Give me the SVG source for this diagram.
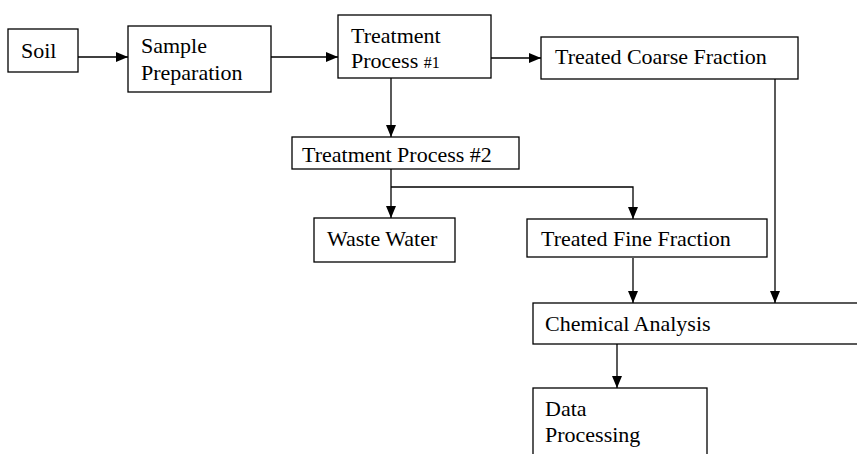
<svg xmlns="http://www.w3.org/2000/svg" width="857" height="454" viewBox="0 0 857 454">
<defs>
<marker id="ah" markerWidth="12" markerHeight="10" refX="12" refY="5" orient="auto" markerUnits="userSpaceOnUse">
<path d="M0,0 L12,5 L0,10 Z" fill="#000"/>
</marker>
<style>
.box{fill:#fff;stroke:#000;stroke-width:1.3}
.t{font-family:'Liberation Serif','Times New Roman','DejaVu Serif',serif;font-size:22px;fill:#000}
.s{font-size:16px}
.c{fill:none;stroke:#000;stroke-width:1.3}
</style>
</defs>
<rect width="857" height="454" fill="#fff"/>
<g id="connectors">
<path class="c" d="M78,57 H128" marker-end="url(#ah)"/>
<path class="c" d="M271,57 H338" marker-end="url(#ah)"/>
<path class="c" d="M491,58 H541" marker-end="url(#ah)"/>
<path class="c" d="M391,78 V137" marker-end="url(#ah)"/>
<path class="c" d="M391,169 V218" marker-end="url(#ah)"/>
<path class="c" d="M391,187 H633 V219" marker-end="url(#ah)"/>
<path class="c" d="M633,258 V303" marker-end="url(#ah)"/>
<path class="c" d="M775,79 V303" marker-end="url(#ah)"/>
<path class="c" d="M617,344 V388" marker-end="url(#ah)"/>
</g>
<g id="soil"><rect class="box" x="8" y="29" width="70" height="43"/><text class="t" x="21" y="58">Soil</text></g>
<g id="sample-preparation"><rect class="box" x="128" y="26" width="143" height="66"/><text class="t" x="141" y="53">Sample</text><text class="t" x="141" y="80">Preparation</text></g>
<g id="treatment-process-1"><rect class="box" x="338" y="15" width="153" height="63"/><text class="t" x="351" y="43">Treatment</text><text class="t" x="351" y="68">Process <tspan class="s">#1</tspan></text></g>
<g id="treated-coarse-fraction"><rect class="box" x="541" y="37" width="257" height="42"/><text class="t" x="555" y="64">Treated Coarse Fraction</text></g>
<g id="treatment-process-2"><rect class="box" x="292" y="137" width="227" height="32"/><text class="t" x="302" y="162">Treatment Process #2</text></g>
<g id="waste-water"><rect class="box" x="314" y="218" width="141" height="44"/><text class="t" x="327" y="246">Waste Water</text></g>
<g id="treated-fine-fraction"><rect class="box" x="527" y="219" width="240" height="38"/><text class="t" x="541" y="246">Treated Fine Fraction</text></g>
<g id="chemical-analysis"><rect class="box" x="533" y="303" width="340" height="41"/><text class="t" x="545" y="331">Chemical Analysis</text></g>
<g id="data-processing"><rect class="box" x="533" y="388" width="174" height="80"/><text class="t" x="545" y="416">Data</text><text class="t" x="545" y="442">Processing</text></g>
</svg>
